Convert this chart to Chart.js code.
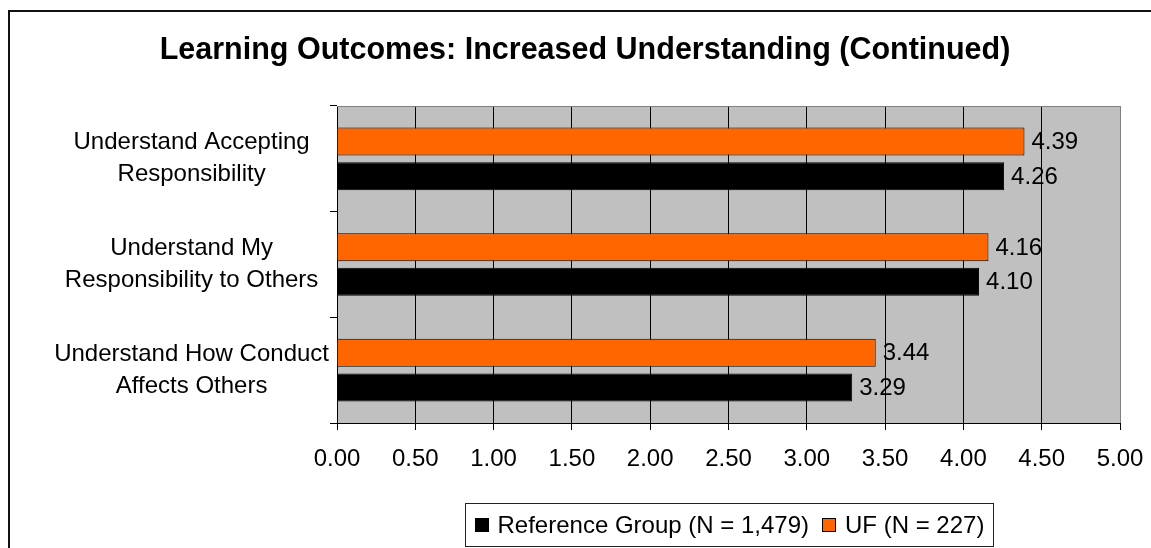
<!DOCTYPE html>
<html>
<head>
<meta charset="utf-8">
<script src="https://cdn.jsdelivr.net/npm/chart.js@4/dist/chart.umd.min.js"></script>
<style>
  html, body { margin: 0; padding: 0; background: #fff; overflow: hidden; }
  #wrap { position: relative; width: 1151px; height: 548px; }
</style>
</head>
<body>
<div id="wrap"><canvas id="c" width="1151" height="548"></canvas></div>
<script>
// Survey items, listed top to bottom
const categories = [
  ["Understand Accepting", "Responsibility"],
  ["Understand My", "Responsibility to Others"],
  ["Understand How Conduct", "Affects Others"]
];
// Mean ratings per group
const ufValues = [4.39, 4.16, 3.44];
const referenceValues = [4.26, 4.10, 3.29];
const ufName = "UF (N = 227)";
const referenceName = "Reference Group (N = 1,479)";
// Value axis ticks
const xTickValues = [0, 0.5, 1, 1.5, 2, 2.5, 3, 3.5, 4, 4.5, 5];

const FONT = "'Liberation Sans', Arial, Helvetica, sans-serif";
const TEXT_SIZE = 24;

// Outer frame of the chart object (only the top and left edges fall inside the page)
const framePlugin = {
  id: 'frame',
  beforeDraw(chart) {
    const ctx = chart.ctx;
    ctx.save();
    ctx.strokeStyle = '#111';
    ctx.lineWidth = 2;
    ctx.beginPath();
    ctx.moveTo(9, chart.height + 2);
    ctx.lineTo(9, 11);
    ctx.lineTo(chart.width + 2, 11);
    ctx.stroke();
    ctx.restore();
  }
};

// Grey plot area with a grey top edge
const plotAreaPlugin = {
  id: 'plotArea',
  beforeDraw(chart) {
    const a = chart.chartArea;
    const ctx = chart.ctx;
    ctx.save();
    ctx.fillStyle = '#C0C0C0';
    ctx.fillRect(a.left, a.top, a.right - a.left, a.bottom - a.top);
    ctx.restore();
  },
  beforeDatasetsDraw(chart) {
    const a = chart.chartArea;
    const ctx = chart.ctx;
    ctx.save();
    ctx.strokeStyle = '#808080';
    ctx.lineWidth = 1;
    ctx.beginPath();
    const y = Math.round(a.top) + 0.5;
    ctx.moveTo(a.left, y);
    ctx.lineTo(a.right + 0.5, y);
    ctx.stroke();
    ctx.restore();
  }
};

// Value labels to the right of each bar
const valueLabelPlugin = {
  id: 'valueLabels',
  afterDatasetsDraw(chart) {
    const ctx = chart.ctx;
    ctx.save();
    ctx.font = TEXT_SIZE + 'px ' + FONT;
    ctx.fillStyle = '#000';
    ctx.textAlign = 'left';
    ctx.textBaseline = 'middle';
    chart.data.datasets.forEach((ds, i) => {
      chart.getDatasetMeta(i).data.forEach((bar, j) => {
        ctx.fillText(ds.data[j].toFixed(2), bar.x + 7, bar.y + 1);
      });
    });
    ctx.restore();
  }
};

// Boxed legend under the plot, reference group listed first
const boxLegendPlugin = {
  id: 'boxLegend',
  afterDraw(chart) {
    const ctx = chart.ctx;
    const a = chart.chartArea;
    const items = chart.data.datasets.slice().reverse();
    ctx.save();
    ctx.font = TEXT_SIZE + 'px ' + FONT;
    const marker = 14, markerGap = 9, itemGap = 13, padX = 9;
    let total = padX * 2;
    const widths = items.map(ds => ctx.measureText(ds.label).width);
    items.forEach((ds, i) => {
      total += marker + markerGap + widths[i];
      if (i < items.length - 1) total += itemGap;
    });
    const cx = (a.left + a.right) / 2;
    const boxLeft = Math.round(cx - total / 2) + 0.5;
    const boxTop = 503.5, boxH = 43, cy = boxTop + boxH / 2;
    ctx.fillStyle = '#fff';
    ctx.fillRect(boxLeft, boxTop, total, boxH);
    ctx.strokeStyle = '#222';
    ctx.lineWidth = 1;
    ctx.strokeRect(boxLeft, boxTop, Math.round(total), boxH);
    let x = boxLeft + padX;
    ctx.textAlign = 'left';
    ctx.textBaseline = 'middle';
    items.forEach((ds, i) => {
      const mx = Math.round(x), my = Math.round(cy - marker / 2);
      ctx.fillStyle = ds.backgroundColor;
      ctx.fillRect(mx, my, marker, marker);
      ctx.strokeStyle = '#000';
      ctx.strokeRect(mx + 0.5, my + 0.5, marker - 1, marker - 1);
      x += marker + markerGap;
      ctx.fillStyle = '#000';
      ctx.fillText(ds.label, x, cy + 1);
      x += widths[i] + itemGap;
    });
    ctx.restore();
  }
};

new Chart(document.getElementById('c'), {
  type: 'bar',
  data: {
    labels: categories,
    datasets: [
      {
        label: ufName,
        data: ufValues,
        backgroundColor: '#FF6600',
        borderColor: '#000',
        borderWidth: 1,
        categoryPercentage: 0.656,
        barPercentage: 0.81
      },
      {
        label: referenceName,
        data: referenceValues,
        backgroundColor: '#000000',
        borderColor: '#000',
        borderWidth: 1,
        categoryPercentage: 0.656,
        barPercentage: 0.81
      }
    ]
  },
  options: {
    indexAxis: 'y',
    responsive: false,
    animation: false,
    devicePixelRatio: 1,
    layout: { padding: { left: 50, right: 31, top: 0, bottom: 0 } },
    plugins: {
      legend: { display: false },
      tooltip: { enabled: false },
      title: {
        display: true,
        text: 'Learning Outcomes: Increased Understanding (Continued)',
        color: '#000',
        font: { family: FONT, size: 30.5, weight: 'bold', lineHeight: 1.2 },
        padding: { top: 32, bottom: 37.4 }
      }
    },
    scales: {
      x: {
        min: 0,
        max: 5,
        afterBuildTicks: axis => { axis.ticks = xTickValues.map(v => ({ value: v })); },
        afterFit: axis => {
          axis.height = 125;
          axis.paddingLeft = 0;
          axis.paddingRight = 0;
        },
        grid: {
          color: c => (c.tick && c.tick.value === 5 ? '#808080' : '#000'),
          tickColor: '#000',
          tickLength: 7,
          lineWidth: 1
        },
        border: { color: '#000', width: 1 },
        ticks: {
          color: '#000',
          font: { family: FONT, size: TEXT_SIZE },
          padding: 15,
          maxRotation: 0,
          autoSkip: false,
          callback: v => Number(v).toFixed(2)
        }
      },
      y: {
        afterFit: axis => {
          axis.width = 287;
          axis.paddingTop = 0;
          axis.paddingBottom = 0;
        },
        grid: { drawOnChartArea: false, tickLength: 7, color: '#000' },
        border: { color: '#000', width: 1 },
        ticks: {
          crossAlign: 'center',
          padding: 1,
          color: '#000',
          font: { family: FONT, size: TEXT_SIZE, lineHeight: 1.33 }
        }
      }
    }
  },
  plugins: [framePlugin, plotAreaPlugin, valueLabelPlugin, boxLegendPlugin]
});
</script>
</body>
</html>
